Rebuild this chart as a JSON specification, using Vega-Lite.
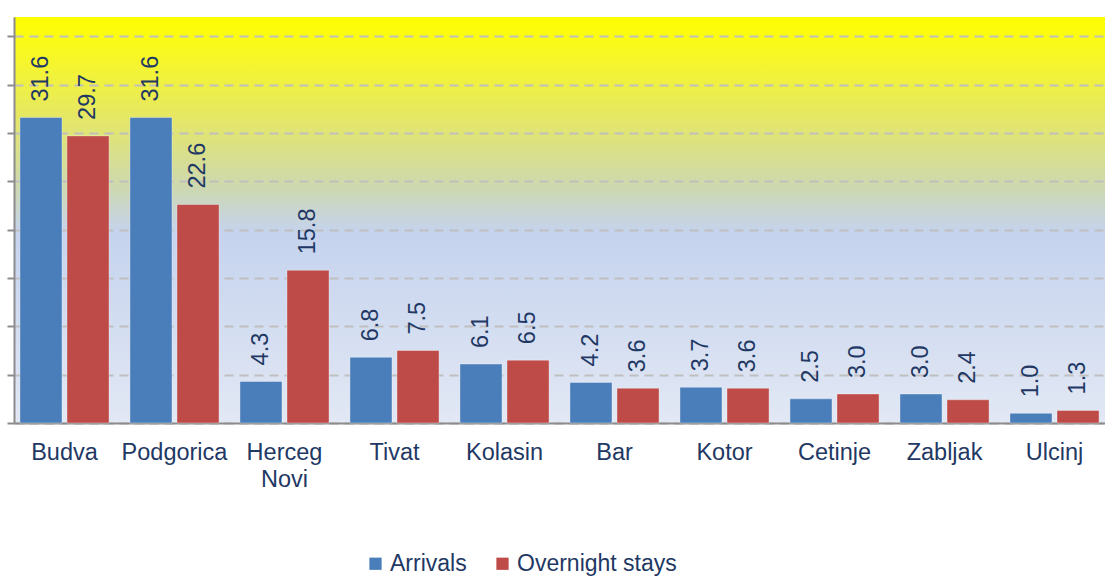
{
  "$schema": "https://vega.github.io/schema/vega-lite/v6.json",
  "autosize": "none",
  "width": 1091,
  "height": 406,
  "padding": {"left": 14, "top": 17, "right": 0, "bottom": 156},
  "background": "#ffffff",
  "config": {
    "font": "Liberation Sans",
    "view": {
      "stroke": null,
      "fill": {
        "gradient": "linear",
        "x1": 0, "y1": 0, "x2": 0, "y2": 1,
        "stops": [
          {"offset": 0, "color": "#ffff00"},
          {"offset": 0.1, "color": "#f7f728"},
          {"offset": 0.26, "color": "#e3e66a"},
          {"offset": 0.42, "color": "#cdd8b0"},
          {"offset": 0.53, "color": "#c5d3ee"},
          {"offset": 1, "color": "#e2e8f4"}
        ]
      }
    }
  },
  "data": {
    "values": [
      {"city": "Budva", "series": "Arrivals", "value": 31.6},
      {"city": "Budva", "series": "Overnight stays", "value": 29.7},
      {"city": "Podgorica", "series": "Arrivals", "value": 31.6},
      {"city": "Podgorica", "series": "Overnight stays", "value": 22.6},
      {"city": "Herceg Novi", "series": "Arrivals", "value": 4.3},
      {"city": "Herceg Novi", "series": "Overnight stays", "value": 15.8},
      {"city": "Tivat", "series": "Arrivals", "value": 6.8},
      {"city": "Tivat", "series": "Overnight stays", "value": 7.5},
      {"city": "Kolasin", "series": "Arrivals", "value": 6.1},
      {"city": "Kolasin", "series": "Overnight stays", "value": 6.5},
      {"city": "Bar", "series": "Arrivals", "value": 4.2},
      {"city": "Bar", "series": "Overnight stays", "value": 3.6},
      {"city": "Kotor", "series": "Arrivals", "value": 3.7},
      {"city": "Kotor", "series": "Overnight stays", "value": 3.6},
      {"city": "Cetinje", "series": "Arrivals", "value": 2.5},
      {"city": "Cetinje", "series": "Overnight stays", "value": 3.0},
      {"city": "Zabljak", "series": "Arrivals", "value": 3.0},
      {"city": "Zabljak", "series": "Overnight stays", "value": 2.4},
      {"city": "Ulcinj", "series": "Arrivals", "value": 1.0},
      {"city": "Ulcinj", "series": "Overnight stays", "value": 1.3}
    ]
  },
  "encoding": {
    "x": {
      "field": "city",
      "type": "nominal",
      "sort": null,
      "scale": {"paddingInner": 0.19, "paddingOuter": 0.054},
      "axis": {
        "title": null,
        "labelAngle": 0,
        "labelFontSize": 23.5,
        "labelColor": "#1f3864",
        "labelPadding": 17,
        "labelExpr": "split(datum.label, ' ')",
        "labelLineHeight": 27,
        "ticks": false,
        "domainColor": "#8c8c8c",
        "domainWidth": 2,
        "grid": false
      }
    },
    "xOffset": {
      "field": "series",
      "type": "nominal",
      "sort": ["Arrivals", "Overnight stays"],
      "scale": {"paddingInner": 0.106}
    },
    "y": {
      "field": "value",
      "type": "quantitative",
      "scale": {"domain": [0, 42], "nice": false},
      "axis": {
        "title": null,
        "labels": false,
        "values": [0, 5, 10, 15, 20, 25, 30, 35, 40],
        "tickSize": 7,
        "tickColor": "#8c8c8c",
        "tickWidth": 2,
        "domainColor": "#8c8c8c",
        "domainWidth": 2,
        "grid": true,
        "gridColor": "#bfbfbf",
        "gridWidth": 2,
        "gridDash": [9, 6]
      }
    }
  },
  "layer": [
    {
      "mark": {"type": "bar", "stroke": "#ffffff", "strokeOpacity": 0.35, "strokeWidth": 1},
      "encoding": {
        "color": {
          "field": "series",
          "type": "nominal",
          "scale": {"domain": ["Arrivals", "Overnight stays"], "range": ["#4a7ebb", "#be4b48"]},
          "legend": {
            "title": null,
            "orient": "none",
            "legendX": 350,
            "legendY": 535,
            "direction": "horizontal",
            "symbolType": "square",
            "symbolSize": 150,
            "symbolStrokeWidth": 0,
            "labelFontSize": 23,
            "labelColor": "#1f3864",
            "labelOffset": 3,
            "labelLimit": 400,
            "columnPadding": 24
          }
        }
      }
    },
    {
      "mark": {
        "type": "text",
        "angle": -90,
        "align": "left",
        "baseline": "middle",
        "dx": 16,
        "fontSize": 23.5,
        "color": "#1f3864"
      },
      "encoding": {
        "text": {"field": "value", "type": "quantitative", "format": ".1f"}
      }
    }
  ]
}
